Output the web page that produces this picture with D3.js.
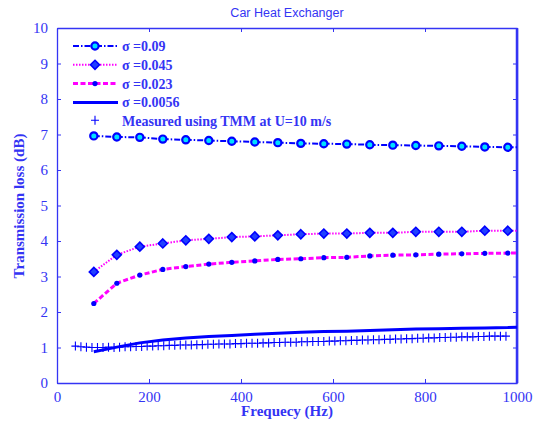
<!DOCTYPE html>
<html>
<head>
<meta charset="utf-8">
<script src="https://cdn.jsdelivr.net/npm/d3@7"></script>
<style>
  body { margin: 0; background: #fff; }
  svg { display: block; }
</style>
</head>
<body>
<svg id="canvas" width="539" height="427"></svg>
<script>
// frequencies of the model curves (markers every 50 Hz, line runs to 1000)
let freqs = [80, 130, 180, 230, 280, 330, 380, 430, 480, 530, 580, 630, 680, 730, 780, 830, 880, 930, 980, 1000]

let s009 = [6.96, 6.93, 6.92, 6.87, 6.85, 6.83, 6.81, 6.79, 6.77, 6.75, 6.74, 6.73, 6.71, 6.70, 6.69, 6.68, 6.67, 6.65, 6.64, 6.64]
let s0045 = [3.13, 3.61, 3.84, 3.93, 4.02, 4.06, 4.11, 4.13, 4.16, 4.19, 4.21, 4.21, 4.23, 4.23, 4.26, 4.26, 4.26, 4.29, 4.29, 4.29]
let s0023 = [2.24, 2.81, 3.04, 3.20, 3.28, 3.35, 3.40, 3.44, 3.48, 3.50, 3.53, 3.54, 3.58, 3.60, 3.61, 3.63, 3.64, 3.65, 3.66, 3.66]
let s00056 = [0.88, 1.01, 1.13, 1.21, 1.27, 1.31, 1.34, 1.37, 1.40, 1.43, 1.45, 1.46, 1.48, 1.50, 1.52, 1.53, 1.54, 1.55, 1.56, 1.57]

// measured (TMM) points, roughly every 12 Hz
let tmmFreqs = [40, 52, 64, 76, 88, 100, 112, 124, 136, 148, 160, 172, 184, 196, 208, 220, 232, 244, 256, 268,
  280, 292, 304, 316, 328, 340, 352, 364, 376, 388, 400, 412, 424, 436, 448, 460, 472, 484, 496, 508,
  520, 532, 544, 556, 568, 580, 592, 604, 616, 628, 640, 652, 664, 676, 688, 700, 712, 724, 736, 748,
  760, 772, 784, 796, 808, 820, 832, 844, 856, 868, 880, 892, 904, 916, 928, 940, 952, 964, 976]
let tmmVals = [1.04, 1.02, 1.01, 1.00, 1.00, 1.00, 1.01, 1.00, 1.01, 1.02, 1.02, 1.03, 1.03, 1.04, 1.04, 1.05, 1.05, 1.06, 1.06, 1.07,
  1.07, 1.07, 1.08, 1.08, 1.09, 1.09, 1.10, 1.10, 1.10, 1.11, 1.11, 1.12, 1.12, 1.12, 1.13, 1.13, 1.14, 1.14, 1.15, 1.15,
  1.15, 1.16, 1.16, 1.17, 1.17, 1.17, 1.18, 1.18, 1.19, 1.19, 1.20, 1.20, 1.21, 1.21, 1.22, 1.22, 1.23, 1.23, 1.24, 1.24,
  1.25, 1.25, 1.26, 1.26, 1.27, 1.27, 1.28, 1.28, 1.29, 1.29, 1.30, 1.30, 1.30, 1.31, 1.31, 1.32, 1.32, 1.32, 1.32]

let xTicks = [0, 200, 400, 600, 800, 1000]
let yTicks = [0, 1, 2, 3, 4, 5, 6, 7, 8, 9, 10]
let legendLabels = ['\u03c3 =0.09', '\u03c3 =0.045', '\u03c3 =0.023', '\u03c3 =0.0056', 'Measured using TMM at U=10 m/s']

let axisBlue = '#3434f4'
let blue = '#0000ff'
let magenta = '#ff00ff'
let serif = '"Liberation Serif", "Times New Roman", serif'

let svg = d3.select('#canvas')
let x = d3.scaleLinear().domain([0, 1000]).range([57, 517])
let y = d3.scaleLinear().domain([0, 10]).range([383, 28])

// axes (ticks inward on all four sides)
let styleAxis = (g) => {
  g.selectAll('path').attr('stroke', axisBlue).attr('stroke-width', 1.3)
  g.selectAll('line').attr('stroke', axisBlue)
  g.selectAll('text').attr('fill', axisBlue).style('font-family', serif).style('font-size', '15px')
}
svg.append('g').attr('transform', 'translate(0,383)')
  .call(d3.axisBottom(x).tickValues(xTicks).tickFormat(d3.format('d')).tickSize(-4).tickPadding(8).tickSizeOuter(0))
  .call(styleAxis)
svg.append('g').attr('transform', 'translate(0,28)')
  .call(d3.axisTop(x).tickValues(xTicks).tickSize(-4).tickFormat('').tickSizeOuter(0))
  .call(styleAxis)
svg.append('g').attr('transform', 'translate(57,0)')
  .call(d3.axisLeft(y).tickValues(yTicks).tickSize(-4).tickPadding(9).tickSizeOuter(0))
  .call(styleAxis)
svg.append('g').attr('transform', 'translate(517,0)')
  .call(d3.axisRight(y).tickValues(yTicks).tickSize(-4).tickFormat('').tickSizeOuter(0))
  .call(styleAxis)
svg.append('line').attr('x1', 517).attr('x2', 517).attr('y1', 28).attr('y2', 383)
  .attr('stroke', axisBlue).attr('stroke-width', 2.5)

// titles
svg.append('text').attr('x', 287).attr('y', 17).attr('text-anchor', 'middle')
  .style('font-family', '"Liberation Sans", Arial, sans-serif').style('font-size', '12.5px')
  .attr('fill', axisBlue).text('Car Heat Exchanger')
svg.append('text').attr('x', 287).attr('y', 416).attr('text-anchor', 'middle')
  .style('font-family', serif).style('font-size', '15px').style('font-weight', 'bold')
  .attr('fill', axisBlue).text('Frequecy (Hz)')
svg.append('text').attr('transform', 'translate(24,206) rotate(-90)').attr('text-anchor', 'middle')
  .style('font-family', serif).style('font-size', '15px').style('font-weight', 'bold')
  .attr('fill', axisBlue).text('Transmission loss (dB)')

let line = d3.line().x((d) => x(d[0])).y((d) => y(d[1]))
let pts = (vals) => freqs.map((f, i) => [f, vals[i]])
let markerPts = (vals) => pts(vals).filter((d) => d[0] !== 1000)

let series = [
  { vals: s009, color: blue, width: 2, dash: '6,2,1.5,2', marker: 'circle' },
  { vals: s0045, color: magenta, width: 2, dash: '1.5,1.5', marker: 'diamond' },
  { vals: s0023, color: magenta, width: 3, dash: '5,2.5', marker: 'dot' },
  { vals: s00056, color: blue, width: 3, dash: null, marker: null }
]

let drawMarker = (g, kind, cx, cy) => {
  if (kind === 'circle') {
    g.append('circle').attr('cx', cx).attr('cy', cy).attr('r', 3.6)
      .attr('fill', '#00e0ff').attr('stroke', blue).attr('stroke-width', 2.2)
  } else if (kind === 'diamond') {
    g.append('path').attr('d', `M${cx},${cy - 4.5}L${cx + 4.5},${cy}L${cx},${cy + 4.5}L${cx - 4.5},${cy}Z`)
      .attr('fill', '#2040ff').attr('stroke', blue).attr('stroke-width', 1.6)
  } else if (kind === 'dot') {
    g.append('circle').attr('cx', cx).attr('cy', cy).attr('r', 2.6).attr('fill', blue)
  } else if (kind === 'plus') {
    g.append('path').attr('d', `M${cx - 4},${cy}H${cx + 4}M${cx},${cy - 4.5}V${cy + 4.5}`)
      .attr('stroke', blue).attr('stroke-width', 1.1).attr('fill', 'none')
  }
}

let plot = svg.append('g')

// measured pluses
let tmmG = plot.append('g')
tmmFreqs.forEach((f, i) => drawMarker(tmmG, 'plus', x(f), y(tmmVals[i])))

series.forEach((s) => {
  plot.append('path').datum(pts(s.vals)).attr('d', line)
    .attr('fill', 'none').attr('stroke', s.color).attr('stroke-width', s.width)
    .attr('stroke-dasharray', s.dash)
  if (s.marker) {
    let g = plot.append('g')
    markerPts(s.vals).forEach((d) => drawMarker(g, s.marker, x(d[0]), y(d[1])))
  }
})

// legend
let leg = svg.append('g')
legendLabels.forEach((lab, i) => {
  let ly = 46 + i * 18.8
  if (i < 4) {
    let s = series[i]
    leg.append('line').attr('x1', 73).attr('x2', 118).attr('y1', ly).attr('y2', ly)
      .attr('stroke', s.color).attr('stroke-width', s.width).attr('stroke-dasharray', s.dash)
    if (s.marker) drawMarker(leg, s.marker, 95, ly)
  } else {
    drawMarker(leg, 'plus', 95, ly - 1)
  }
  leg.append('text').attr('x', 122).attr('y', ly + 5)
    .style('font-family', serif).style('font-size', '14px').style('font-weight', 'bold')
    .attr('fill', axisBlue).text(lab)
})
</script>
</body>
</html>
